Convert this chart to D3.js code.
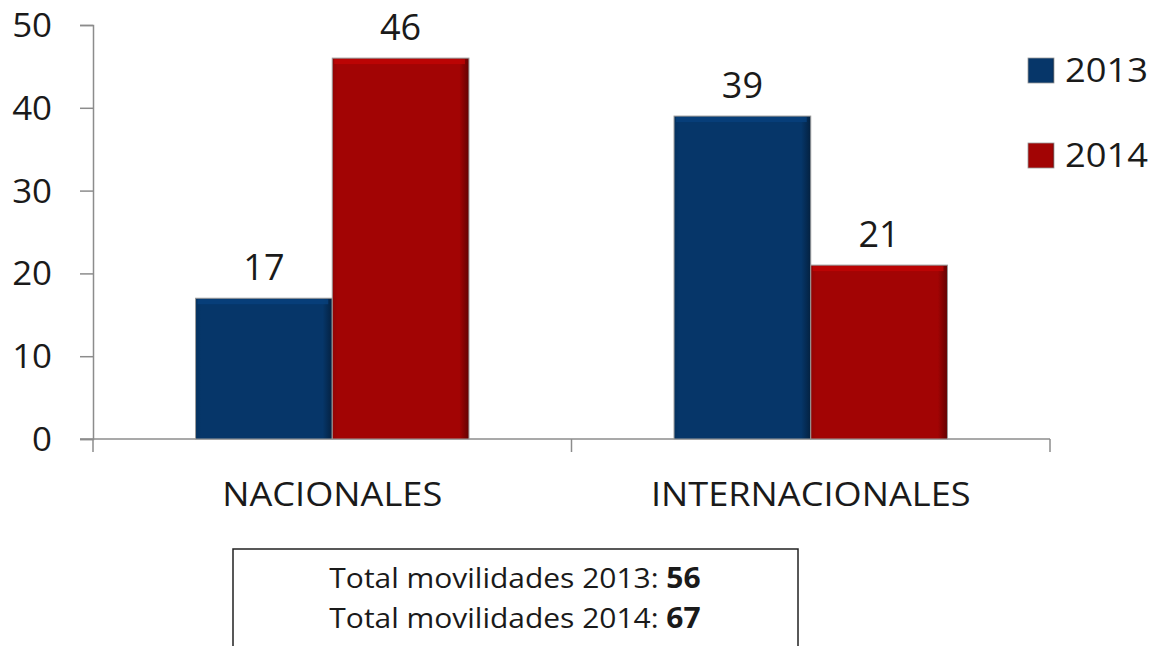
<!DOCTYPE html>
<html>
<head>
<meta charset="utf-8">
<script src="https://cdn.jsdelivr.net/npm/d3@7"></script>
<style>
  body { margin: 0; background: #fff; }
  svg text { font-family: "Open Sans", sans-serif; fill: #1a1a1a; }
</style>
</head>
<body>
<svg id="chart" width="1155" height="646"></svg>
<script>
// data
var categories = ["NACIONALES", "INTERNACIONALES"];
var seriesNames = ["2013", "2014"];
var values2013 = [17, 39];
var values2014 = [46, 21];
var yTicks = [0, 10, 20, 30, 40, 50];
var totals = [["2013", 56], ["2014", 67]];

var svg = d3.select("#chart");
var defs = svg.append("defs");

var colors = {"2013": "#063669", "2014": "#a20404"};

// widen text a bit, the original font is wider than Open Sans
function stretch(sel, k) {
    sel.each(function () {
        var w = this.getComputedTextLength();
        d3.select(this).attr("textLength", w * k).attr("lengthAdjust", "spacingAndGlyphs");
    });
}

// bevel-ish gradients for the bars
function makeGrad(id, c) {
    var base = d3.color(c);
    var g = defs.append("linearGradient").attr("id", id)
        .attr("x1", 0).attr("x2", 1).attr("y1", 0).attr("y2", 0);
    g.append("stop").attr("offset", "0%").attr("stop-color", base.darker(0.3));
    g.append("stop").attr("offset", "4%").attr("stop-color", base);
    g.append("stop").attr("offset", "93%").attr("stop-color", base);
    g.append("stop").attr("offset", "100%").attr("stop-color", base.darker(1.4));
}
makeGrad("g2013", colors["2013"]);
makeGrad("g2014", colors["2014"]);

var mLeft = 93, mRight = 1050, mTop = 25, mBottom = 439;

var y = d3.scaleLinear().domain([0, 50]).range([mBottom, mTop]);
var x0 = d3.scaleBand().domain(categories).range([mLeft, mRight]).paddingInner(0).paddingOuter(0);
var x1 = d3.scaleBand().domain(seriesNames).range([0, x0.bandwidth()]).paddingOuter(0.75).paddingInner(0);

var rows = categories.map(function (c, i) {
    return {cat: c, vals: [{s: "2013", v: values2013[i]}, {s: "2014", v: values2014[i]}]};
});

// y axis
var yAxis = svg.append("g").attr("transform", "translate(" + mLeft + ",0)")
    .call(d3.axisLeft(y).tickValues(yTicks).tickSize(13).tickPadding(28));
yAxis.select(".domain").attr("stroke", "#8c8c8c").attr("stroke-width", 1.5);
yAxis.selectAll(".tick line").attr("stroke", "#8c8c8c").attr("stroke-width", 1.5);
yAxis.selectAll(".tick text").attr("font-size", 32).attr("fill", "#1a1a1a")
    .attr("font-family", "'Open Sans', sans-serif").attr("dy", "0.36em")
    .call(stretch, 1.09);

// x axis line with boundary ticks
var xg = svg.append("g");
xg.append("line").attr("x1", mLeft - 13).attr("x2", mRight).attr("y1", mBottom).attr("y2", mBottom)
    .attr("stroke", "#8c8c8c").attr("stroke-width", 1.5);
var bounds = [mLeft].concat(categories.map(function (c) { return x0(c) + x0.bandwidth(); }));
xg.selectAll(".xt").data(bounds).enter().append("line")
    .attr("x1", function (d) { return d; }).attr("x2", function (d) { return d; })
    .attr("y1", mBottom).attr("y2", mBottom + 13)
    .attr("stroke", "#8c8c8c").attr("stroke-width", 1.5);
xg.selectAll(".xl").data(categories).enter().append("text")
    .attr("x", function (d) { return x0(d) + x0.bandwidth() / 2; })
    .attr("y", 506).attr("text-anchor", "middle").attr("font-size", 32)
    .text(function (d) { return d; })
    .call(stretch, 1.13);

// bars
var groups = svg.selectAll(".grp").data(rows).enter().append("g")
    .attr("transform", function (d) { return "translate(" + x0(d.cat) + ",0)"; });

groups.selectAll("rect").data(function (d) { return d.vals; }).enter().append("rect")
    .attr("x", function (d) { return x1(d.s); })
    .attr("width", x1.bandwidth())
    .attr("y", function (d) { return y(d.v); })
    .attr("height", function (d) { return mBottom - y(d.v); })
    .attr("fill", function (d) { return "url(#g" + d.s + ")"; })
    .attr("stroke", "#9a9a9a").attr("stroke-width", 1);

// top highlight strip
groups.selectAll(".hl").data(function (d) { return d.vals; }).enter().append("rect")
    .attr("x", function (d) { return x1(d.s) + 2; })
    .attr("width", x1.bandwidth() - 6)
    .attr("y", function (d) { return y(d.v) + 1; })
    .attr("height", 5)
    .attr("fill", function (d) { return d3.color(colors[d.s]).brighter(0.5); })
    .attr("opacity", 0.8);

groups.selectAll(".val").data(function (d) { return d.vals; }).enter().append("text")
    .attr("x", function (d) { return x1(d.s) + x1.bandwidth() / 2; })
    .attr("y", function (d) { return y(d.v) - 18; })
    .attr("text-anchor", "middle").attr("font-size", 36)
    .text(function (d) { return d.v; });

// legend
var lg = svg.selectAll(".leg").data(seriesNames).enter().append("g")
    .attr("transform", function (d, i) { return "translate(1028," + (58 + i * 85) + ")"; });
lg.append("rect").attr("width", 26).attr("height", 25)
    .attr("fill", function (d) { return "url(#g" + d + ")"; })
    .attr("stroke", "#9a9a9a").attr("stroke-width", 0.8);
lg.append("text").attr("x", 37).attr("y", 24).attr("font-size", 33)
    .text(function (d) { return d; })
    .call(stretch, 1.1);

// totals box
svg.append("rect").attr("x", 233).attr("y", 549).attr("width", 565).attr("height", 110)
    .attr("fill", "#fff").attr("stroke", "#222").attr("stroke-width", 1.5);
var tt = svg.selectAll(".tot").data(totals).enter().append("text")
    .attr("x", 515).attr("y", function (d, i) { return 588 + i * 40; })
    .attr("text-anchor", "middle").attr("font-size", 28);
tt.append("tspan").text(function (d) { return "Total movilidades " + d[0] + ": "; });
tt.append("tspan").attr("font-weight", "bold").text(function (d) { return d[1]; });
tt.call(stretch, 1.07);
</script>
</body>
</html>
